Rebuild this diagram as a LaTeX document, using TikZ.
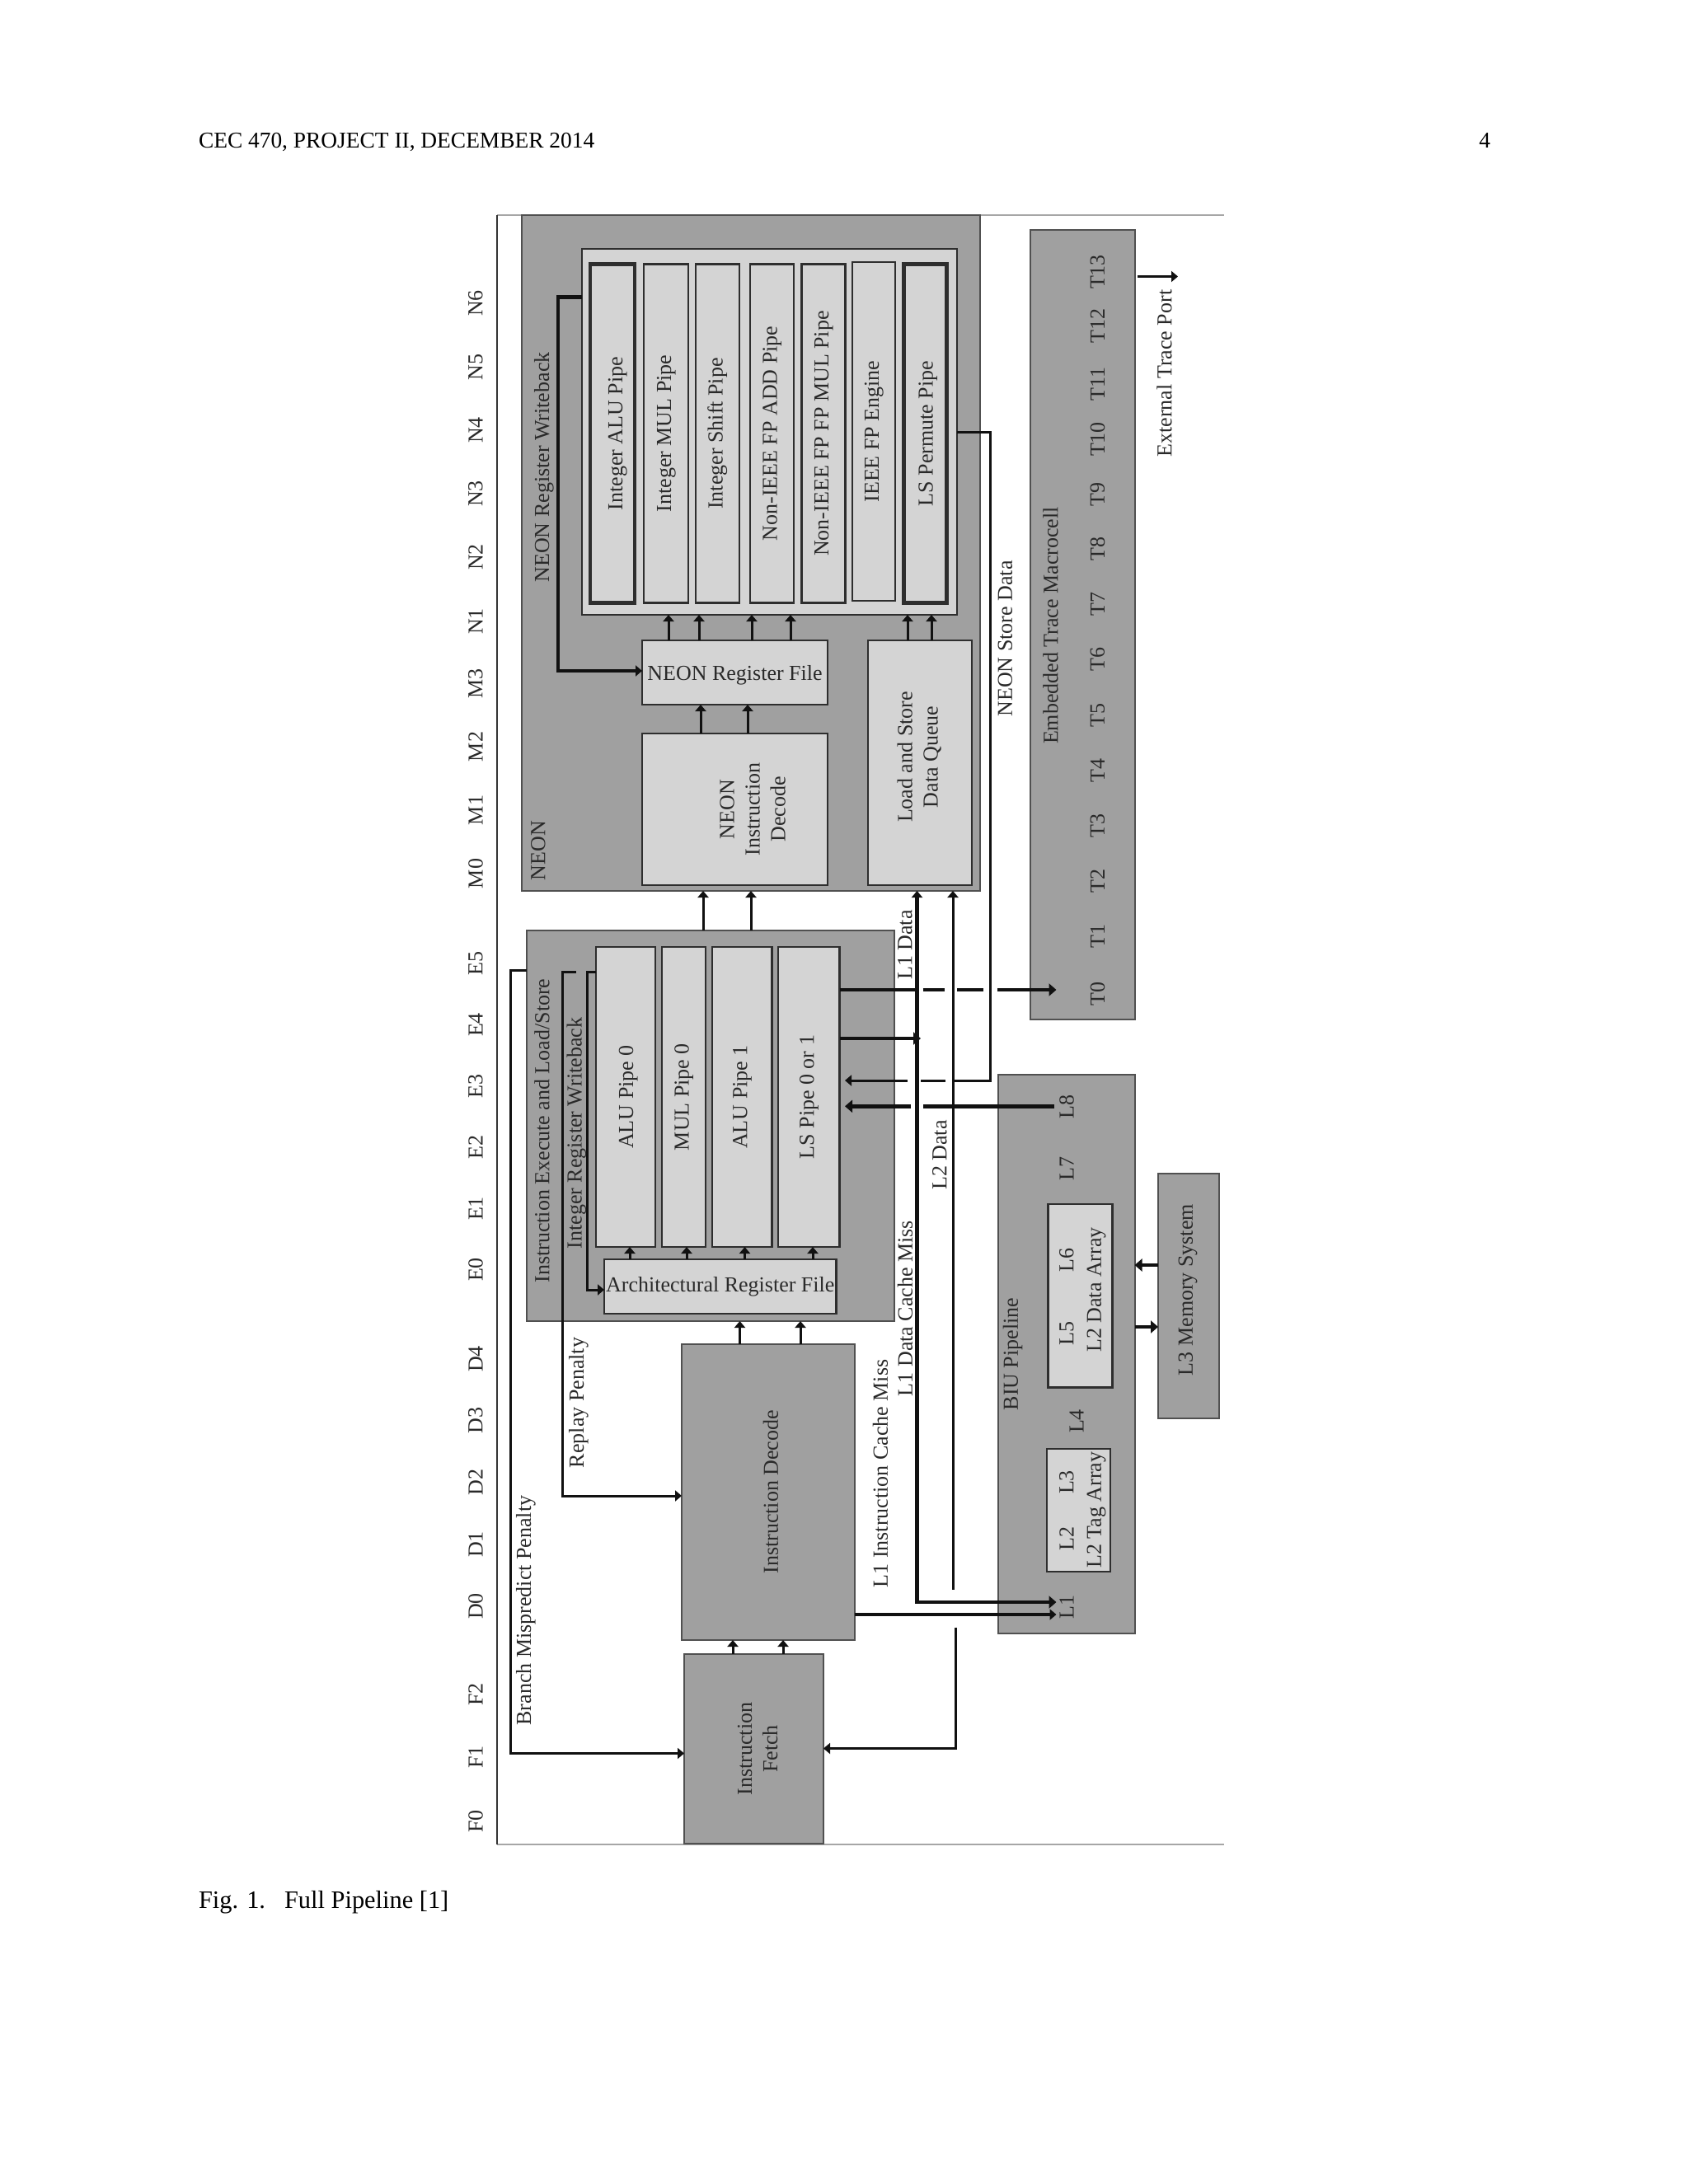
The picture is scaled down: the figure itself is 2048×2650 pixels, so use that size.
\documentclass[tikz,border=0pt]{standalone}
\usepackage{fontspec}
\setmainfont{Liberation Serif}
\usetikzlibrary{arrows.meta}
\definecolor{darkbox}{HTML}{A0A0A0}
\definecolor{lightbox}{HTML}{D4D4D4}
\definecolor{edgeline}{HTML}{2E2E2E}
\definecolor{inkline}{HTML}{111111}
\definecolor{inktext}{HTML}{2A2A2A}
\newcommand{\rtx}[1]{\rotatebox{90}{\begin{tabular}{@{}c@{}}#1\end{tabular}}}
\newcommand{\bx}[7][]{%
  \pgfmathsetmacro\bxw{#5-#3}\pgfmathsetmacro\bxh{#6-#4}%
  \node[#2,#1,minimum width=\bxw pt,minimum height=\bxh pt,anchor=north west] (#7) at (#3,#4) {};}
\tikzset{
  x=1pt,y=-1pt,
  basebox/.style={inner sep=0pt,outer sep=0pt,text=inktext,font=\fontsize{26}{31}\selectfont},
  dk/.style={basebox,draw=edgeline!70!darkbox,fill=darkbox,line width=2pt},
  lt/.style={basebox,draw=edgeline,fill=lightbox,line width=2.5pt},
  ltthick/.style={basebox,draw=edgeline,fill=lightbox,line width=4.5pt},
  lbl/.style={inner sep=0pt,outer sep=0pt,text=inktext,font=\fontsize{26}{31}\selectfont},
  pagetxt/.style={inner sep=0pt,outer sep=0pt,text=black,font=\fontsize{27.4}{32}\selectfont},
  captxt/.style={inner sep=0pt,outer sep=0pt,text=black,font=\fontsize{30.4}{36}\selectfont},
  conn/.style={draw=inkline,line width=3pt},
  connth/.style={draw=inkline,line width=4.5pt},
  arr/.style={conn,-{Triangle[length=8pt,width=13pt]}},
  arrth/.style={connth,-{Triangle[length=9pt,width=15pt]}},
  frameedge/.style={draw=#1,line width=2.5pt},
}
\begin{document}
\begin{tikzpicture}
\useasboundingbox[fill=white] (0,0) rectangle (2048,2650);
% page texts
\node[pagetxt,anchor=base west] (hdr) at (241,179) {CEC 470, PROJECT II, DECEMBER 2014};
\node[pagetxt,anchor=base east] (pg) at (1808,179) {4};
\node[captxt,anchor=base west] (cap) at (241,2315) {Fig. 1.\hspace{23pt}Full Pipeline [1]};
% frame
\draw[frameedge=black!35] (603,261) -- (1485,261);
\draw[frameedge=black!35] (603,2238) -- (1485,2238);
\draw[frameedge=black!80] (603,261) -- (603,2238);
% big blocks
\bx{dk}{633}{261}{1189}{1081}{neon}
\bx{dk}{1249.5}{279}{1376.5}{1237}{trace}
\bx{dk}{639}{1129}{1084.5}{1603}{exec}
\bx{dk}{1210.5}{1304}{1376.5}{1981.5}{biu}
\bx{dk}{1405}{1424}{1479}{1721}{lthree}
% NEON interior
\bx{lt}{706}{302}{1161}{746}{npipes}
\node[ltthick,minimum width=54pt,minimum height=411pt,anchor=north west] (nalu) at (716,320.5) {\hspace*{12pt}\rtx{Integer ALU Pipe}};
\node[lt,minimum width=54pt,minimum height=411pt,anchor=north west] (nmul) at (781,320.5) {\rtx{Integer MUL Pipe}};
\node[lt,minimum width=53pt,minimum height=411pt,anchor=north west] (nshift) at (844,320.5) {\rtx{Integer Shift Pipe}};
\node[lt,minimum width=53pt,minimum height=411pt,anchor=north west] (nadd) at (910,320.5) {\rtx{Non-IEEE FP ADD Pipe}};
\node[lt,minimum width=53pt,minimum height=411pt,anchor=north west] (nfpm) at (972.5,320.5) {\rtx{Non-IEEE FP FP MUL Pipe}};
\node[lt,minimum width=52pt,minimum height=411pt,anchor=north west] (nieee) at (1034,318) {\rtx{IEEE FP Engine}};
\node[ltthick,minimum width=52pt,minimum height=411pt,anchor=north west] (nperm) at (1096.5,320.5) {\hspace*{6pt}\rtx{LS Permute Pipe}};
\node[lt,minimum width=225pt,minimum height=78pt,anchor=north west] (nrf) at (779,777) {\rule{0pt}{24pt}NEON Register File};
\node[lt,minimum width=225pt,minimum height=184pt,anchor=north west] (ndec) at (779,890) {\hspace*{48pt}\rtx{NEON\\Instruction\\Decode}};
\node[lt,minimum width=126pt,minimum height=297pt,anchor=north west] (lsq) at (1053,777) {\raisebox{14pt}{\rtx{Load and Store\\Data Queue}}};
% Execute interior
\node[lt,minimum width=72pt,minimum height=364pt,anchor=north west] (alua) at (723,1149) {\hspace*{6pt}\rtx{ALU Pipe 0}};
\node[lt,minimum width=53pt,minimum height=364pt,anchor=north west] (mula) at (803,1149) {\rtx{MUL Pipe 0}};
\node[lt,minimum width=72.5pt,minimum height=364pt,anchor=north west] (alub) at (864,1149) {\rtx{ALU Pipe 1}};
\node[lt,minimum width=74.5pt,minimum height=364pt,anchor=north west] (lspipe) at (944,1149) {\rtx{LS Pipe 0 or 1}};
\node[lt,minimum width=281.5pt,minimum height=66pt,anchor=north west] (arf) at (733,1528) {Architectural Register File};
% Decode and fetch
\node[dk,minimum width=209.5pt,minimum height=359.5pt,anchor=north west] (idec) at (827,1630.5) {\hspace*{12pt}\rtx{Instruction Decode}};
\node[dk,minimum width=169pt,minimum height=230pt,anchor=north west] (ifet) at (830,2007) {\hspace*{14pt}\rtx{Instruction\\Fetch}};
% BIU interior
\bx{lt}{1271.5}{1461}{1349.5}{1683.5}{ldata}
\bx{lt}{1270}{1758}{1347}{1907}{ltag}
% stage labels
\foreach \nm/\yy in {N6/368,N5/445.5,N4/522,N3/599,N2/676,N1/754,M3/829.5,M2/906,M1/983,M0/1060,E5/1169,E4/1243.5,E3/1318,E2/1392,E1/1466.5,E0/1540.5,D4/1649,D3/1723.5,D2/1798.5,D1/1874,D0/1949,F2/2056,F1/2132,F0/2210}
  \node[lbl] (st\nm) at (577,\yy) {\rotatebox{90}{\nm}};
\foreach \nm/\yy in {T13/330,T12/395.5,T11/466,T10/533,T9/600,T8/666,T7/733,T6/800,T5/868,T4/935,T3/1002,T2/1069,T1/1136,T0/1206}
  \node[lbl] (st\nm) at (1331.5,\yy) {\rotatebox{90}{\nm}};
\node[lbl] (stL8) at (1294,1343) {\rotatebox{90}{L8}};
\node[lbl] (stL7) at (1294,1418) {\rotatebox{90}{L7}};
\node[lbl] (stL6) at (1294,1529) {\rotatebox{90}{L6}};
\node[lbl] (stL5) at (1294,1618) {\rotatebox{90}{L5}};
\node[lbl] (stL4) at (1306,1724.5) {\rotatebox{90}{L4}};
\node[lbl] (stL3) at (1294,1798.5) {\rotatebox{90}{L3}};
\node[lbl] (stL2) at (1294,1867) {\rotatebox{90}{L2}};
\node[lbl] (stL1) at (1294,1950) {\rotatebox{90}{L1}};
% block titles
\node[lbl] (tneon) at (653,1032) {\rotatebox{90}{NEON}};
\node[lbl] (tnwb) at (660,567) {\rotatebox{90}{NEON Register Writeback}};
\node[lbl] (tnsd) at (1219.5,775) {\rotatebox{90}{NEON Store Data}};
\node[lbl] (tetm) at (1274.5,759) {\rotatebox{90}{Embedded Trace Macrocell}};
\node[lbl] (text) at (1412.5,453) {\rotatebox{90}{External Trace Port}};
\node[lbl] (texe) at (657.5,1372) {\rotatebox{90}{Instruction Execute and Load/Store}};
\node[lbl] (tiwb) at (699.5,1375) {\rotatebox{90}{Integer Register Writeback}};
\node[lbl] (trep) at (702,1702) {\rotatebox{90}{Replay Penalty}};
\node[lbl] (tbmp) at (638,1954) {\rotatebox{90}{Branch Mispredict Penalty}};
\node[lbl] (tl1d) at (1098,1146.5) {\rotatebox{90}{L1 Data}};
\node[lbl] (tl2d) at (1140,1401.5) {\rotatebox{90}{L2 Data}};
\node[lbl] (tdcm) at (1098,1587.5) {\rotatebox{90}{L1 Data Cache Miss}};
\node[lbl] (ticm) at (1068,1788) {\rotatebox{90}{L1 Instruction Cache Miss}};
\node[lbl] (tbiu) at (1228.5,1643) {\rotatebox{90}{BIU Pipeline}};
\node[lbl] (tlda) at (1330,1565) {\rotatebox{90}{L2 Data Array}};
\node[lbl] (tlta) at (1330,1832) {\rotatebox{90}{L2 Tag Array}};
\node[lbl] (tmem) at (1441,1565) {\rotatebox{90}{L3 Memory System}};
% free ends
\coordinate (portend) at (1429,335.5);
\coordinate (portstart) at (1380,335.5);
\coordinate (t0in) at (1281.5,1201);
\coordinate (l1a) at (1281.5,1944);
\coordinate (l1b) at (1281.5,1959);
\coordinate (l2end) at (1156,1928.5);
\coordinate (fetchsrc) at (1159.5,1974.5);
\coordinate (repsrc) at (699,1179);
\coordinate (lsstore) at (1025,1311);
\coordinate (lsleight) at (1025,1342.3);
\coordinate (leightout) at (1279,1342.3);
\coordinate (l1join) at (1117,1260);
% NEON connectors
\foreach \xx in {811,848,912,959} \draw[arr] (\xx,0 |- nrf.north) -- (\xx,0 |- npipes.south);
\foreach \xx in {1101,1130} \draw[arr] (\xx,0 |- lsq.north) -- (\xx,0 |- npipes.south);
\foreach \xx in {850,907} \draw[arr] (\xx,0 |- ndec.north) -- (\xx,0 |- nrf.south);
\draw[connth,-{Triangle[length=8pt,width=13pt]}] (npipes.west |- 0,360.5) -- (677,360.5) -- (677,814) -- (nrf.west |- 0,814);
% Exec connectors
\foreach \xx in {764,833,903.5,986} \draw[arr] (\xx,0 |- arf.north) -- (\xx,0 |- alua.south);
\foreach \xx in {853,911} \draw[arr] (\xx,0 |- exec.north) -- (\xx,0 |- neon.south);
\foreach \xx in {897.5,971} \draw[arr] (\xx,0 |- idec.north) -- (\xx,0 |- exec.south);
\foreach \xx in {889,950} \draw[arr] (\xx,0 |- ifet.north) -- (\xx,0 |- idec.south);
\draw[arr] (alua.west |- 0,1179) -- (712,1179) -- (712,1565) -- (arf.west |- 0,1565);
\draw[arr] (repsrc) -- (682,1179) -- (682,1815) -- (idec.west |- 0,1815);
\draw[arr] (exec.west |- 0,1177.5) -- (619,1177.5) -- (619,2127.5) -- (ifet.west |- 0,2127.5);
% cache lines
\draw[connth,{Triangle[length=8pt,width=13pt]}-{Triangle[length=9pt,width=15pt]}] (1112.5,0 |- neon.south) -- (1112.5,1944) -- (l1a);
\draw[arr] (l2end) -- (1156,0 |- neon.south);
\draw[arrth] (lspipe.east |- l1join) -- (l1join);
\draw[arr,line width=3.5pt] (idec.east |- l1b) -- (l1b);
\draw[arr] (fetchsrc) -- (1159.5,2121.5) -- (ifet.east |- 0,2121.5);
\draw[arrth,dash pattern=on 93pt off 8pt on 26.7pt off 15pt on 31.3pt off 17.7pt on 80pt] (lspipe.east |- t0in) -- (t0in);
\draw[arr,dash pattern=on 871.3pt off 10pt on 30pt off 16.7pt on 90pt] (npipes.east |- 0,524.5) -- (1201.5,524.5) -- (1201.5,1311) -- (lsstore);
\draw[arrth,dash pattern=on 159pt off 15pt on 90pt] (leightout) -- (lsleight);
% memory and port
\draw[arrth] (lthree.west |- 0,1535) -- (biu.east |- 0,1535);
\draw[arrth] (biu.east |- 0,1610) -- (lthree.west |- 0,1610);
\draw[arr] (portstart) -- (portend);
\end{tikzpicture}
\end{document}
